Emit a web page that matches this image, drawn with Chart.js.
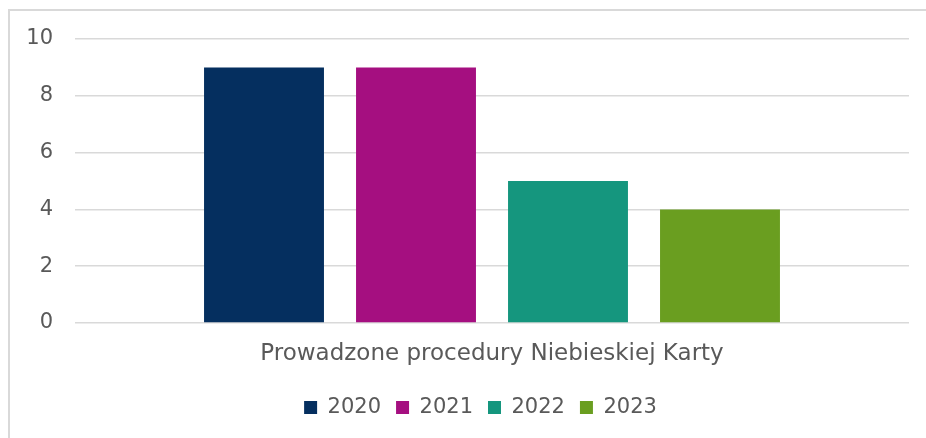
<!DOCTYPE html>
<html>
<head>
<meta charset="utf-8">
<script src="https://cdn.jsdelivr.net/npm/chart.js@4"></script>
<style>
html,body{margin:0;padding:0;background:#fff;overflow:hidden;}
#frame{position:absolute;left:8px;top:9px;width:1000px;height:1000px;border:2px solid #d9d9d9;box-sizing:border-box;}
#wrap{position:absolute;left:0;top:0;width:926px;height:438px;}
</style>
</head>
<body>
<div id="frame"></div>
<div id="wrap"><canvas id="c" width="926" height="438"></canvas></div>
<script>
const categories = ['Prowadzone procedury Niebieskiej Karty'];
const years = ['2020', '2021', '2022', '2023'];
const values = [9, 9, 5, 4];
const colors = ['#052f5f', '#a50f80', '#15967e', '#6a9e20'];
const yTicks = [0, 2, 4, 6, 8, 10];

const FONT = 'DejaVu Sans';
const TXT = '#595959';

const legendShift = {
  id: 'legendShift',
  beforeDraw(chart) {
    const lg = chart.legend;
    if (lg && !lg._shifted) {
      const orig = lg.draw;
      lg.draw = function () {
        const ctx = chart.ctx;
        ctx.save();
        ctx.translate(26, 0);
        orig.apply(this, arguments);
        ctx.restore();
      };
      lg._shifted = true;
    }
  }
};

new Chart(document.getElementById('c'), {
  type: 'bar',
  data: {
    labels: categories,
    datasets: years.map((y, i) => ({
      label: y,
      data: [values[i]],
      backgroundColor: colors[i],
      borderWidth: 0,
      categoryPercentage: 0.729,
      barPercentage: 0.789
    }))
  },
  plugins: [legendShift],
  options: {
    responsive: false,
    animation: false,
    layout: { padding: { left: 0, top: 39, right: 17, bottom: 10 } },
    plugins: {
      tooltip: { enabled: false },
      legend: {
        position: 'bottom',
        labels: {
          boxWidth: 13, boxHeight: 13, padding: 15,
          color: TXT, font: { family: FONT, size: 21 }
        }
      }
    },
    scales: {
      x: {
        afterFit(s) { s.height = 59; },
        grid: { display: false, drawTicks: false },
        border: { display: false },
        ticks: { color: TXT, font: { family: FONT, size: 23 }, padding: 17 }
      },
      y: {
        min: 0, max: 10,
        afterFit(s) { s.width = 75; },
        afterBuildTicks(s) { s.ticks = yTicks.map(v => ({ value: v })); },
        grid: { color: '#d9d9d9', lineWidth: 1.5, drawTicks: false },
        border: { display: false },
        ticks: { color: TXT, font: { family: FONT, size: 21 }, padding: 22 }
      }
    }
  }
});
</script>
</body>
</html>
